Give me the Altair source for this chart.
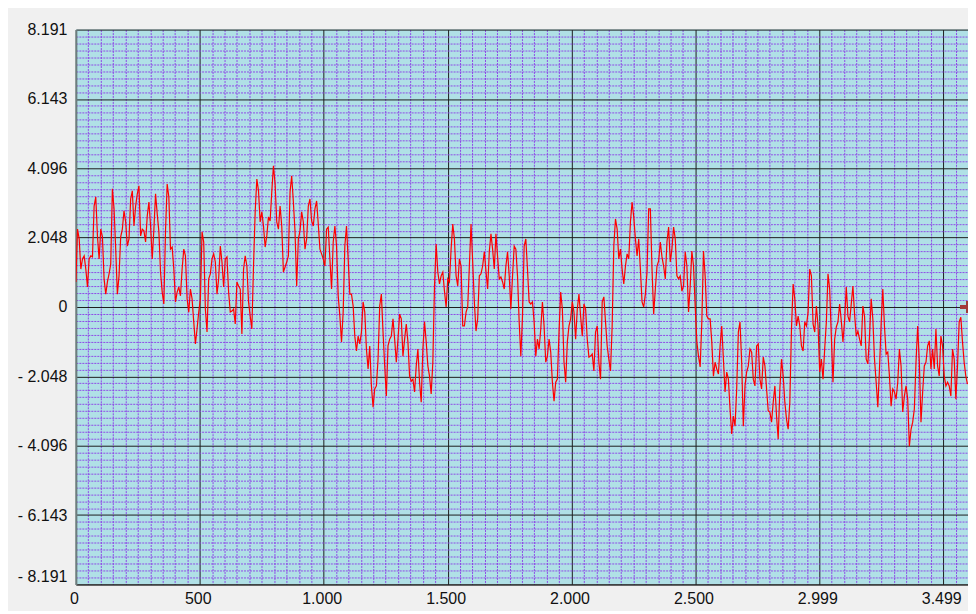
import altair as alt
import pandas as pd

# ---------------- data ----------------
SAMPLE_STEP = 6.7  # x distance between consecutive samples

SIGNAL = [
    0.74,
    2.30, 2.01, 1.12, 1.42, 1.51, 1.12, 0.59, 1.42, 1.51, 1.48,
    2.98, 3.25, 2.10, 1.42, 2.30, 2.07, 0.83, 0.38, 0.74, 0.98,
    1.27, 3.49, 2.90, 1.71, 0.38, 0.92, 2.07, 2.30, 2.84, 2.51,
    1.80, 2.01, 3.19, 3.43, 2.39, 2.98, 3.34, 3.58, 2.10, 2.30,
    2.25, 1.92, 2.69, 3.10, 2.39, 1.42, 2.30, 3.34, 2.75, 2.22,
    1.03, 0.44, 0.09, 2.25, 3.63, 3.25, 1.71, 1.77, 1.12, 0.15,
    0.44, 0.59, 0.33, 1.12, 1.71, 1.51, 0.24, -0.15, 0.53, 0.24,
    -0.44, -1.09, -0.65, -0.15, 0.24, 2.22, 1.92, -0.06, -0.74, 0.83,
    0.98, 1.42, 1.57, 1.33, 0.38, 0.83,
    1.80, 1.33, 0.59, 1.42, 1.48, 0.44, -0.15, -0.12, -0.06, -0.50,
    0.74, 0.62, 0.53, -0.80, 1.12, 1.51, 1.21, 0.15, -0.27, -0.65,
    1.21, 2.81, 3.78, 3.43, 2.51, 2.81, 2.39, 1.77, 2.10, 2.66,
    2.54, 3.40, 4.17, 3.63, 2.51, 2.30, 2.98, 2.39, 1.03, 1.18,
    1.33, 1.51, 3.40, 3.87, 3.10, 2.22, 0.62, 2.01, 2.25, 2.81,
    2.51, 1.71, 2.01, 2.98, 3.19, 2.54, 2.39, 2.90, 3.13, 2.45,
    1.71, 1.57, 1.42,
    1.21, 2.30, 2.36, 1.42, 0.53, 1.92, 2.39, 1.80, 0.33, -0.27,
    -1.03, -0.15, 1.80, 2.39, 1.42, 0.38, 0.38, 0.03, -0.86, -1.30,
    -0.86, -1.09, -0.74, 0.15, -0.15, -1.24, -1.83,
    -1.15, -2.33, -2.96, -2.42, -2.33, -1.54, 0.03, 0.38, -0.74, -1.74,
    -2.63, -1.15, -0.95, -0.86, -0.35, -0.95, -1.63, -0.95, -0.21, -0.35,
    -1.45, -0.95, -0.50, -1.03, -2.04, -2.19, -2.13, -2.51, -1.74, -1.24,
    -2.22, -2.81, -1.24, -0.44, -1.03, -1.74, -2.04, -2.57, -1.63, 0.62,
    1.86, 1.03, 0.68, 0.92, 1.03, 0.47, 0.00, 0.83, 0.74, 1.71,
    2.45, 2.01, 0.92, 0.62, 1.42, 1.21, -0.56, -0.56, -0.15, 0.00,
    1.21, 2.45, 1.33, 0.15, -0.71, -0.35, 0.92, 0.98, 1.21, 1.63,
    1.06, 0.53, 1.63, 2.16, 1.71, 1.12, 2.16, 1.48, 0.83, 0.89,
    0.74, 0.53, 1.21, 1.63, 0.92, -0.06, 0.92, 1.80, 1.71, 0.92,
    -0.44,
    -1.45, -0.27, 1.80, 2.01, 1.12, 0.15, 0.09, 0.15, -0.44, -1.45,
    -0.95, -1.24, -0.65, 0.15, -0.56, -1.63, -1.45, -0.95, -1.33, -2.22,
    -2.78, -2.22, -2.13, -0.74, 0.44, -0.06, -1.63, -2.22, -1.03, -0.56,
    -0.35, 0.15, -0.15, -0.95, -0.06, 0.38, -0.27, -0.86, 0.09, -0.06,
    -0.95, -1.48, -1.45, -1.39, -1.89, -0.74, -0.56, -1.63, -2.13, 0.15,
    0.30, -0.44, -1.15, -1.54, -1.89, -0.56, 1.80, 2.60, 2.30, 1.42,
    1.71, 1.12, 0.68, 1.21, 1.57, 1.42, 2.51, 3.10, 2.66, 2.01,
    1.51, 2.01, 1.12, 0.15, 0.00, 0.38, 1.03, 2.90, 2.90, 1.12,
    -0.21, 0.53, 1.21, 1.36, 1.92, 1.48, 1.21, 0.83, 1.92, 2.36,
    1.33, 1.71, 2.36, 2.01, 0.92, 0.83, 0.92, 0.47, 0.62, 1.63,
    1.21, -0.15, 0.62, 1.65, 1.21, 0.03, -1.03, -1.45, -1.77, -0.44,
    1.65, 0.92, -0.27, -0.35, -0.35, -1.03, -2.04, -1.63, -1.83, -1.98,
    -1.15, -0.56, -1.54, -2.51, -1.92, -2.13, -3.01, -3.75, -3.22, -3.52,
    -2.42, -0.74, -0.44, -1.63, -3.52, -2.33, -1.92, -1.74, -1.24, -1.33,
    -2.13, -2.33, -1.15, -1.09, -2.13, -2.42, -1.48, -1.74, -2.42, -3.07,
    -3.10, -3.40, -2.81, -2.33, -3.22, -3.90, -2.42, -1.54, -2.04, -2.81,
    -3.31, -3.61, -2.81, -0.65, 0.68, 0.24, -0.56, -0.27, -0.56, -1.15,
    -1.30, -0.44, -0.56, -0.15, 1.12, 0.92, -0.50, -0.74, 0.03, -0.56,
    -1.92, -1.54, -2.13, -1.24, -0.44, 0.98, 0.53, -0.86, -2.22, -0.95,
    -0.59, -0.44, 0.09, -0.41, -1.03, -0.41, 0.59, -0.27, -0.44, 0.09,
    0.62, -0.21, -0.86, -0.71, -0.95, -1.15, 0.03, -0.27, -1.54, -1.68,
    -0.86, 0.24, -0.35, -1.54, -2.22, -2.96, -1.83, -0.50, 0.53, -0.56,
    -1.39, -1.33, -2.04, -2.93, -2.42, -2.51, -2.72, -2.22, -1.24, -1.74,
    -3.10, -2.63, -2.33, -2.72, -4.11, -3.61, -3.40, -3.01, -1.63, -0.56,
    -1.63, -3.40, -2.51, -1.74, -1.63, -1.15, -1.00, -1.83, -1.24, -1.83,
    -0.65, -1.74, -2.04, -0.86, -1.15, -2.04, -2.33, -2.22, -2.33, -2.63,
    -1.24, -1.54, -2.72, -1.74, -0.44, -0.30, -1.03, -1.63, -2.04, -2.28,
]

X_DOMAIN = [0, 3600]
Y_DOMAIN = [-8.191, 8.191]

X_TICKS = [0, 500, 1000, 1500, 2000, 2500, 3000, 3500]
X_TICK_LABELS = ["0", "500", "1.000", "1.500", "2.000", "2.500", "2.999", "3.499"]
Y_TICKS = [-8.191, -6.143, -4.096, -2.048, 0, 2.048, 4.096, 6.143, 8.191]
Y_TICK_LABELS = ["- 8.191", "- 6.143", "- 4.096", "- 2.048", "0",
                 "2.048", "4.096", "6.143", "8.191"]

MARKER_Y = 0
MARKER_X = [3568, 3600]

# ---------------- grid values ----------------
X_MINOR = [k * 50 for k in range(1, 72) if k % 10 != 0]
Y_MINOR = []
for a, b in zip(Y_TICKS[:-1], Y_TICKS[1:]):
    for j in range(1, 10):
        Y_MINOR.append(round(a + (b - a) * j / 10, 6))

x_values = sorted(X_TICKS + X_MINOR)
y_values = sorted(Y_TICKS + Y_MINOR)


def label_expr(vals, labels):
    expr = "''"
    for v, l in reversed(list(zip(vals, labels))):
        expr = f"datum.value === {v} ? '{l}' : ({expr})"
    return expr


def major_test(vals):
    return "indexof([" + ",".join(str(v) for v in vals) + "], datum.value) >= 0"


FONT = "Liberation Sans"
MAJOR_COLOR = "#1e1e1e"
MINOR_COLOR = "#8a3be6"

x_axis = alt.Axis(
    values=x_values,
    tickCount=500,
    labelExpr=label_expr(X_TICKS, X_TICK_LABELS),
    title=None,
    ticks=False,
    grid=True,
    gridColor={"condition": {"test": major_test(X_TICKS), "value": MAJOR_COLOR},
               "value": MINOR_COLOR},
    gridDash={"condition": {"test": major_test(X_TICKS), "value": []},
              "value": [2, 1]},
    gridOpacity={"condition": {"test": major_test(X_TICKS), "value": 1},
                 "value": 0.9},
    gridWidth=1,
    domain=True,
    domainColor="#222222",
    domainWidth=1,
    labelFont=FONT,
    labelFontSize=16,
    labelColor="#111111",
    labelPadding=6,
    labelOffset=-2,
    labelOverlap=False,
    labelFlush=False,
    labelBound=False,
)

y_axis = alt.Axis(
    values=y_values,
    tickCount=500,
    labelExpr=label_expr(Y_TICKS, Y_TICK_LABELS),
    title=None,
    ticks=False,
    grid=True,
    gridColor={"condition": {"test": major_test(Y_TICKS), "value": MAJOR_COLOR},
               "value": MINOR_COLOR},
    gridDash={"condition": {"test": major_test(Y_TICKS), "value": []},
              "value": [2, 1]},
    gridOpacity={"condition": {"test": major_test(Y_TICKS), "value": 1},
                 "value": 0.9},
    gridWidth=1,
    domain=True,
    domainColor="#6d7d7d",
    domainWidth=2,
    labelFont=FONT,
    labelFontSize=16,
    labelColor="#111111",
    labelPadding=9,
    labelBaseline={"condition": {"test": f"datum.value === {Y_TICKS[0]}", "value": "bottom"},
                   "value": "middle"},
    labelOverlap=False,
    labelFlush=False,
    labelBound=False,
)

df = pd.DataFrame({
    "t": [i * SAMPLE_STEP for i in range(len(SIGNAL))],
    "v": SIGNAL,
})

xs = alt.Scale(domain=X_DOMAIN, nice=False, zero=False)
ys = alt.Scale(domain=Y_DOMAIN, nice=False, zero=False)

line = alt.Chart(df).mark_line(color="#ff0000", strokeWidth=1.2, clip=True).encode(
    x=alt.X("t:Q", scale=xs, axis=x_axis),
    y=alt.Y("v:Q", scale=ys, axis=y_axis),
)

marker_h = alt.Chart(df).mark_rule(color="#a33a3a", strokeWidth=3).encode(
    x=alt.datum(MARKER_X[0]),
    x2=alt.datum(MARKER_X[1]),
    y=alt.datum(MARKER_Y),
)
marker_v = alt.Chart(df).mark_rule(color="#a33a3a", strokeWidth=2).encode(
    x=alt.datum(MARKER_X[1] - 4),
    y=alt.datum(MARKER_Y - 0.18),
    y2=alt.datum(MARKER_Y + 0.18),
)

chart = alt.layer(line, marker_h, marker_v).properties(
    width=894,
    height=556,
    autosize=alt.AutoSizeParams(type="none"),
    padding={"left": 68, "top": 21, "right": 0, "bottom": 26},
    background="#f0f0f0",
).configure_view(
    fill="#b0e0e6",
    stroke=None,
)

chart.save("out.html", embed_options={"renderer": "svg", "actions": False})
